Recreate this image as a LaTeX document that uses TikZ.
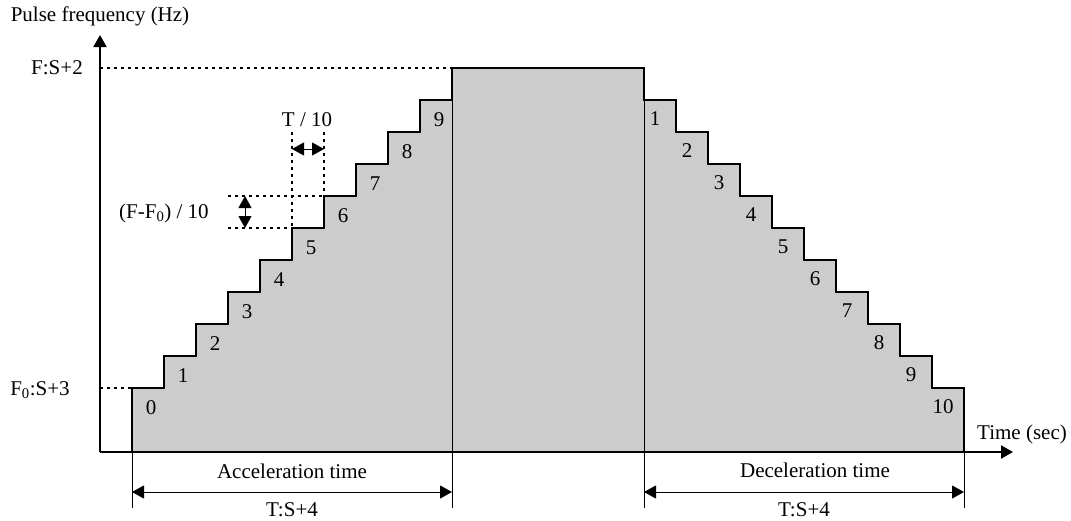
\documentclass[tikz,border=0pt]{standalone}
\usepackage{fontspec}
\setmainfont{Liberation Serif}
\usetikzlibrary{arrows.meta,calc}
\definecolor{stairgray}{RGB}{204,204,204}
\tikzset{
  >={Triangle[length=12pt,width=13pt]},
  axis/.style={line width=2pt,-{Triangle[length=12pt,width=13pt]}},
  stair/.style={line width=2pt,line join=miter,fill=stairgray},
  guide/.style={line width=2pt,dash pattern=on 3pt off 4pt},
  dim/.style={<->,line width=1pt},
  rule/.style={line width=1pt},
  lbl/.style={font=\fontsize{21}{25}\selectfont,inner sep=0pt},
}
\begin{document}
\begin{tikzpicture}[x=1pt,y=-1pt]
  \useasboundingbox (0,0) rectangle (1071,520);
  % staircase profile
  \filldraw[stair] (132,452)
    \foreach \i in {0,...,9}{ -- ({132+32*\i},{388-32*\i}) -- ({164+32*\i},{388-32*\i}) }
    -- (452,68) -- (644,68)
    \foreach \j in {1,...,10}{ -- ({612+32*\j},{68+32*\j}) -- ({644+32*\j},{68+32*\j}) }
    -- (964,452) -- cycle;
  \draw[rule] (452,100) -- (452,452) (644,100) -- (644,452);
  \foreach \i in {0,...,9}
    \node[lbl] (a\i) at ({151+32*\i},{408-32*\i}) {\i};
  \foreach \j in {1,...,10}
    \node[lbl] (d\j) at ({623+32*\j},{87+32*\j}) {\j};
  % axes
  \coordinate (O) at (100,452);
  \coordinate (ytop) at (100,35);
  \coordinate (xend) at (1013,452);
  \draw[axis] (O) -- (ytop);
  \draw[axis] (O) -- (xend);
  \node[lbl] (ylab) at (100,16) {Pulse frequency (Hz)};
  \node[lbl] (xlab) at (1022,434) {Time (sec)};
  % levels
  \node[lbl] (F) at (57,68) {F:S+2};
  \node[lbl] (F0) at (40,390) {F\textsubscript{0}:S+3};
  \draw[guide] (100,68) -- (452,68);
  \draw[guide] (100,388) -- (132,388);
  % step size marks
  \draw[guide] (292,132) -- (292,228) (324,132) -- (324,196);
  \draw[guide] (228,196) -- (324,196) (228,228) -- (292,228);
  \coordinate (tl) at (292,149);
  \coordinate (tr) at (324,149);
  \coordinate (ft) at (245,196);
  \coordinate (fb) at (245,228);
  \draw[dim] (tl) -- (tr);
  \draw[dim] (ft) -- (fb);
  \node[lbl] (tten) at (307,120) {T / 10};
  \node[lbl] (ften) at (164,213) {(F-F\textsubscript{0}) / 10};
  % time spans
  \foreach \x/\n in {132/as,452/ae,644/ds,964/de}{
    \draw[rule] (\x,452) -- (\x,508);
    \coordinate (\n) at (\x,492);
  }
  \draw[dim] (as) -- (ae);
  \draw[dim] (ds) -- (de);
  \node[lbl] (acc) at (292,471) {Acceleration time};
  \node[lbl] (acct) at (292,510) {T:S+4};
  \node[lbl] (dec) at (815,470) {Deceleration time};
  \node[lbl] (dect) at (804,510) {T:S+4};
\end{tikzpicture}
\end{document}
